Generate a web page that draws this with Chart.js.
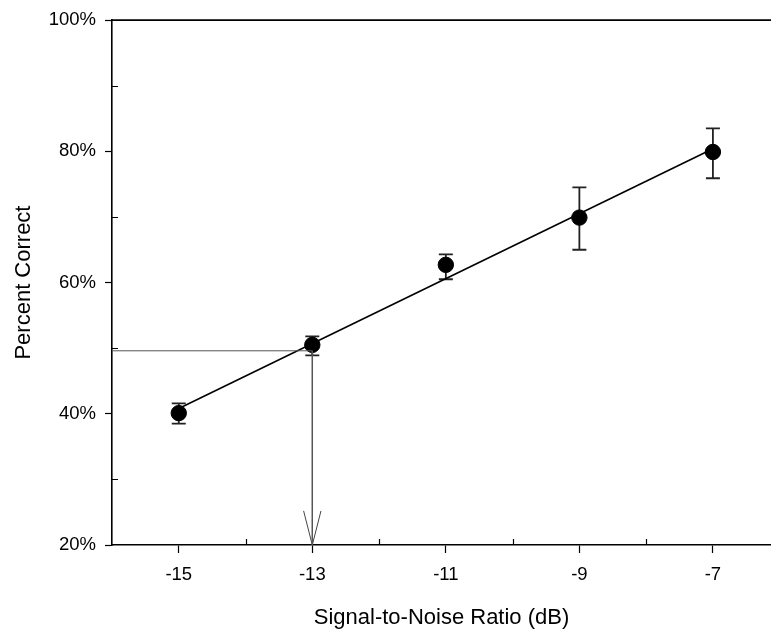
<!DOCTYPE html>
<html>
<head>
<meta charset="utf-8">
<script src="https://cdn.jsdelivr.net/npm/chart.js@4/dist/chart.umd.min.js"></script>
<style>
  html, body { margin: 0; padding: 0; background: #fff; overflow: hidden; }
  #wrap { width: 771px; height: 639px; }
</style>
</head>
<body>
<div id="wrap"><canvas id="snrChart"></canvas></div>
<script>
const snr = [-15, -13, -11, -9, -7];
const percentCorrect = [40.1, 50.5, 62.7, 69.9, 79.9];
const errTop = [41.6, 51.8, 64.3, 74.5, 83.5];
const errBottom = [38.5, 48.9, 60.5, 65.0, 75.9];

// fitted line end points
const fitX = [-15, -7];
const fitY = [40.8, 80.4];

// threshold guide: horizontal from the axis, then down to the x axis
const guideX = [-16, -13, -13];
const guideY = [49.6, 49.6, 20];
const arrowX = [-13.13, -13, -12.87];
const arrowY = [25.2, 20, 25.2];

// axes
const xMin = -16, xMax = -6.13;
const yMin = 20, yMax = 100;
const xTickValues = [-15, -13, -11, -9, -7];
const xMinorTicks = [-14, -12, -10, -8];
const yTickValues = [20, 40, 60, 80, 100];
const yMinorTicks = [30, 50, 70, 90];

const toPoints = (xs, ys) => xs.map((x, i) => ({ x: x, y: ys[i] }));

const decorations = {
    id: "decorations",
    beforeDatasetsDraw(chart) {
        const ctx = chart.ctx;
        const xs = chart.scales.x, ys = chart.scales.y;
        const area = chart.chartArea;
        ctx.save();
        // top frame line
        ctx.strokeStyle = "#000";
        ctx.lineWidth = 1.6;
        ctx.beginPath();
        ctx.moveTo(area.left, area.top);
        ctx.lineTo(chart.width, area.top);
        ctx.stroke();
        // minor ticks pointing inwards
        ctx.lineWidth = 1.2;
        ctx.beginPath();
        xMinorTicks.forEach(v => {
            const px = Math.round(xs.getPixelForValue(v)) + 0.5;
            ctx.moveTo(px, area.bottom);
            ctx.lineTo(px, area.bottom - 6);
        });
        yMinorTicks.forEach(v => {
            const py = Math.round(ys.getPixelForValue(v)) + 0.5;
            ctx.moveTo(area.left, py);
            ctx.lineTo(area.left + 6, py);
        });
        ctx.stroke();
        // error bars
        ctx.strokeStyle = "#222";
        ctx.lineWidth = 1.8;
        snr.forEach((v, i) => {
            const px = xs.getPixelForValue(v);
            const top = ys.getPixelForValue(errTop[i]);
            const bot = ys.getPixelForValue(errBottom[i]);
            ctx.beginPath();
            ctx.moveTo(px, top);
            ctx.lineTo(px, bot);
            ctx.moveTo(px - 7, top);
            ctx.lineTo(px + 7, top);
            ctx.moveTo(px - 7, bot);
            ctx.lineTo(px + 7, bot);
            ctx.stroke();
        });
        ctx.restore();
    }
};

const ctx = document.getElementById("snrChart").getContext("2d");
new Chart(ctx, {
    type: "scatter",
    data: {
        datasets: [
            {
                label: "guide",
                data: toPoints(guideX, guideY),
                showLine: true,
                borderColor: "#555",
                borderWidth: 1,
                pointRadius: 0,
                clip: false,
            },
            {
                label: "arrow",
                data: toPoints(arrowX, arrowY),
                showLine: true,
                borderColor: "#444",
                borderWidth: 1,
                pointRadius: 0,
                clip: false,
            },
            {
                label: "fit",
                data: toPoints(fitX, fitY),
                showLine: true,
                borderColor: "#000",
                borderWidth: 1.6,
                pointRadius: 0,
            },
            {
                label: "Percent Correct",
                data: toPoints(snr, percentCorrect),
                backgroundColor: "#000",
                borderColor: "#000",
                pointRadius: 7.7,
                pointHoverRadius: 7.7,
            },
        ],
    },
    options: {
        responsive: true,
        maintainAspectRatio: false,
        animation: false,
        layout: { autoPadding: false, padding: { top: 17, right: 0, left: 0, bottom: 0 } },
        plugins: {
            legend: { display: false },
            tooltip: { enabled: false },
        },
        scales: {
            x: {
                type: "linear",
                min: xMin,
                max: xMax,
                afterBuildTicks: scale => { scale.ticks = xTickValues.map(v => ({ value: v })); },
                afterFit: scale => {
                    scale.height = 94;
                    scale.paddingLeft = 0;
                    scale.paddingRight = 0;
                },
                grid: { drawOnChartArea: false, drawTicks: true, tickLength: 8, tickColor: "#000", tickWidth: 1.2 },
                border: { color: "#000", width: 1.6 },
                ticks: {
                    padding: 11,
                    color: "#000",
                    maxRotation: 0,
                    font: { family: "'Liberation Sans', Arial, sans-serif", size: 18.5 },
                    callback: v => String(v),
                },
                title: {
                    display: true,
                    text: "Signal-to-Noise Ratio (dB)",
                    color: "#000",
                    padding: { top: 0, bottom: 8 },
                    font: { family: "'Liberation Sans', Arial, sans-serif", size: 22 },
                },
            },
            y: {
                type: "linear",
                min: yMin,
                max: yMax,
                afterBuildTicks: scale => { scale.ticks = yTickValues.map(v => ({ value: v })); },
                afterFit: scale => { scale.width = 112; },
                grid: { drawOnChartArea: false, drawTicks: true, tickLength: 7, tickColor: "#000", tickWidth: 1.2 },
                border: { color: "#000", width: 1.6 },
                ticks: {
                    padding: 9,
                    color: "#000",
                    font: { family: "'Liberation Sans', Arial, sans-serif", size: 18.5 },
                    callback: v => v + "%",
                },
                title: {
                    display: true,
                    text: "Percent Correct",
                    color: "#000",
                    padding: { top: 11, bottom: 0 },
                    font: { family: "'Liberation Sans', Arial, sans-serif", size: 22 },
                },
            },
        },
    },
    plugins: [decorations],
});
</script>
</body>
</html>
